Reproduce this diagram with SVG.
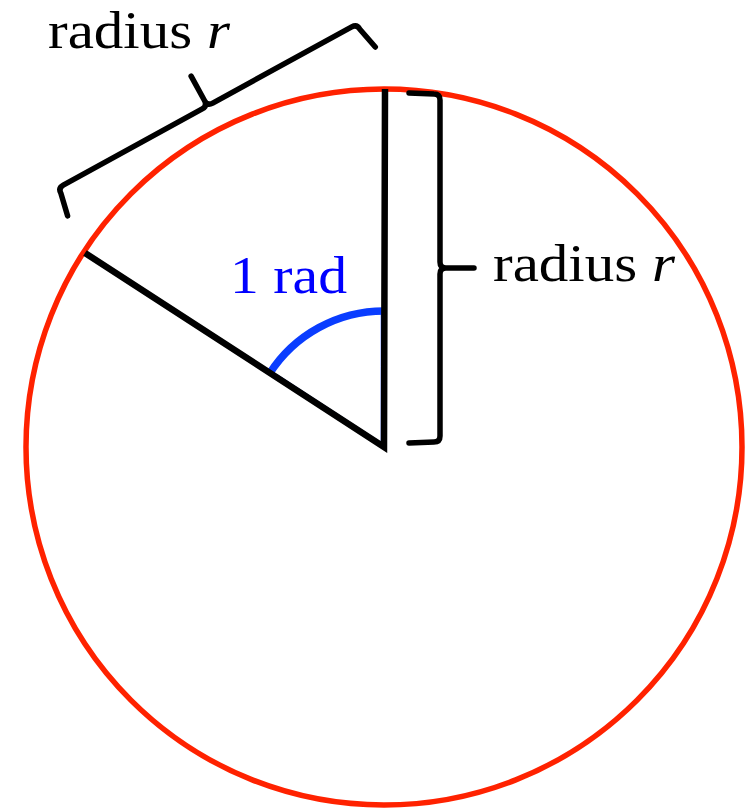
<svg xmlns="http://www.w3.org/2000/svg" width="754" height="809" viewBox="0 0 754 809">
<style>
.lbl{font-family:"Liberation Serif","Times New Roman",serif;font-size:53px;fill:#000}
.blue{fill:#0000ff}
.brace{fill:none;stroke:#000;stroke-width:5.5;stroke-linecap:round;stroke-linejoin:round}
</style>
<rect width="754" height="809" fill="#fff"/>
<g id="circle">
<circle cx="384" cy="447" r="358" fill="none" stroke="#ff2200" stroke-width="5.5"/>
</g>
<g id="angle">
<path d="M381.5,312 L381.5,445 M277,375 L381,443" fill="none" stroke="#0a3dff" stroke-width="1.5"/>
<path d="M384,311 A136,136 0 0 0 269.6,373.5" fill="none" stroke="#0a3dff" stroke-width="7.5"/>
<text class="lbl blue" x="230" y="293" textLength="117" lengthAdjust="spacingAndGlyphs">1 rad</text>
</g>
<g id="radii">
<path d="M85,253 L384,447 L385,89" fill="none" stroke="#000" stroke-width="6.5" stroke-linejoin="miter"/>
</g>
<g id="brace-vertical">
<path class="brace" transform="translate(440,94) rotate(90)" d="M-1,31 L0,6 Q0,0 6,0 L168,0 Q174,0 174,-6 L174,-34 M174,-6 Q174,0 180,0 L342,0 Q348,0 348,6 L349,31"/>
<text class="lbl" x="493" y="281" textLength="182" lengthAdjust="spacingAndGlyphs">radius <tspan font-style="italic">r</tspan></text>
</g>
<g id="brace-arc">
<path class="brace" transform="translate(58,188) rotate(-28.75)" d="M-5,29 L0,6 Q0,0 6,0 L164.5,0 Q170.5,0 170.5,-6 L170.5,-34 M170.5,-6 Q170.5,0 176.5,0 L335,0 Q341,0 341,6 L346,29"/>
<text class="lbl" x="48" y="48" textLength="182" lengthAdjust="spacingAndGlyphs">radius <tspan font-style="italic">r</tspan></text>
</g>
</svg>
